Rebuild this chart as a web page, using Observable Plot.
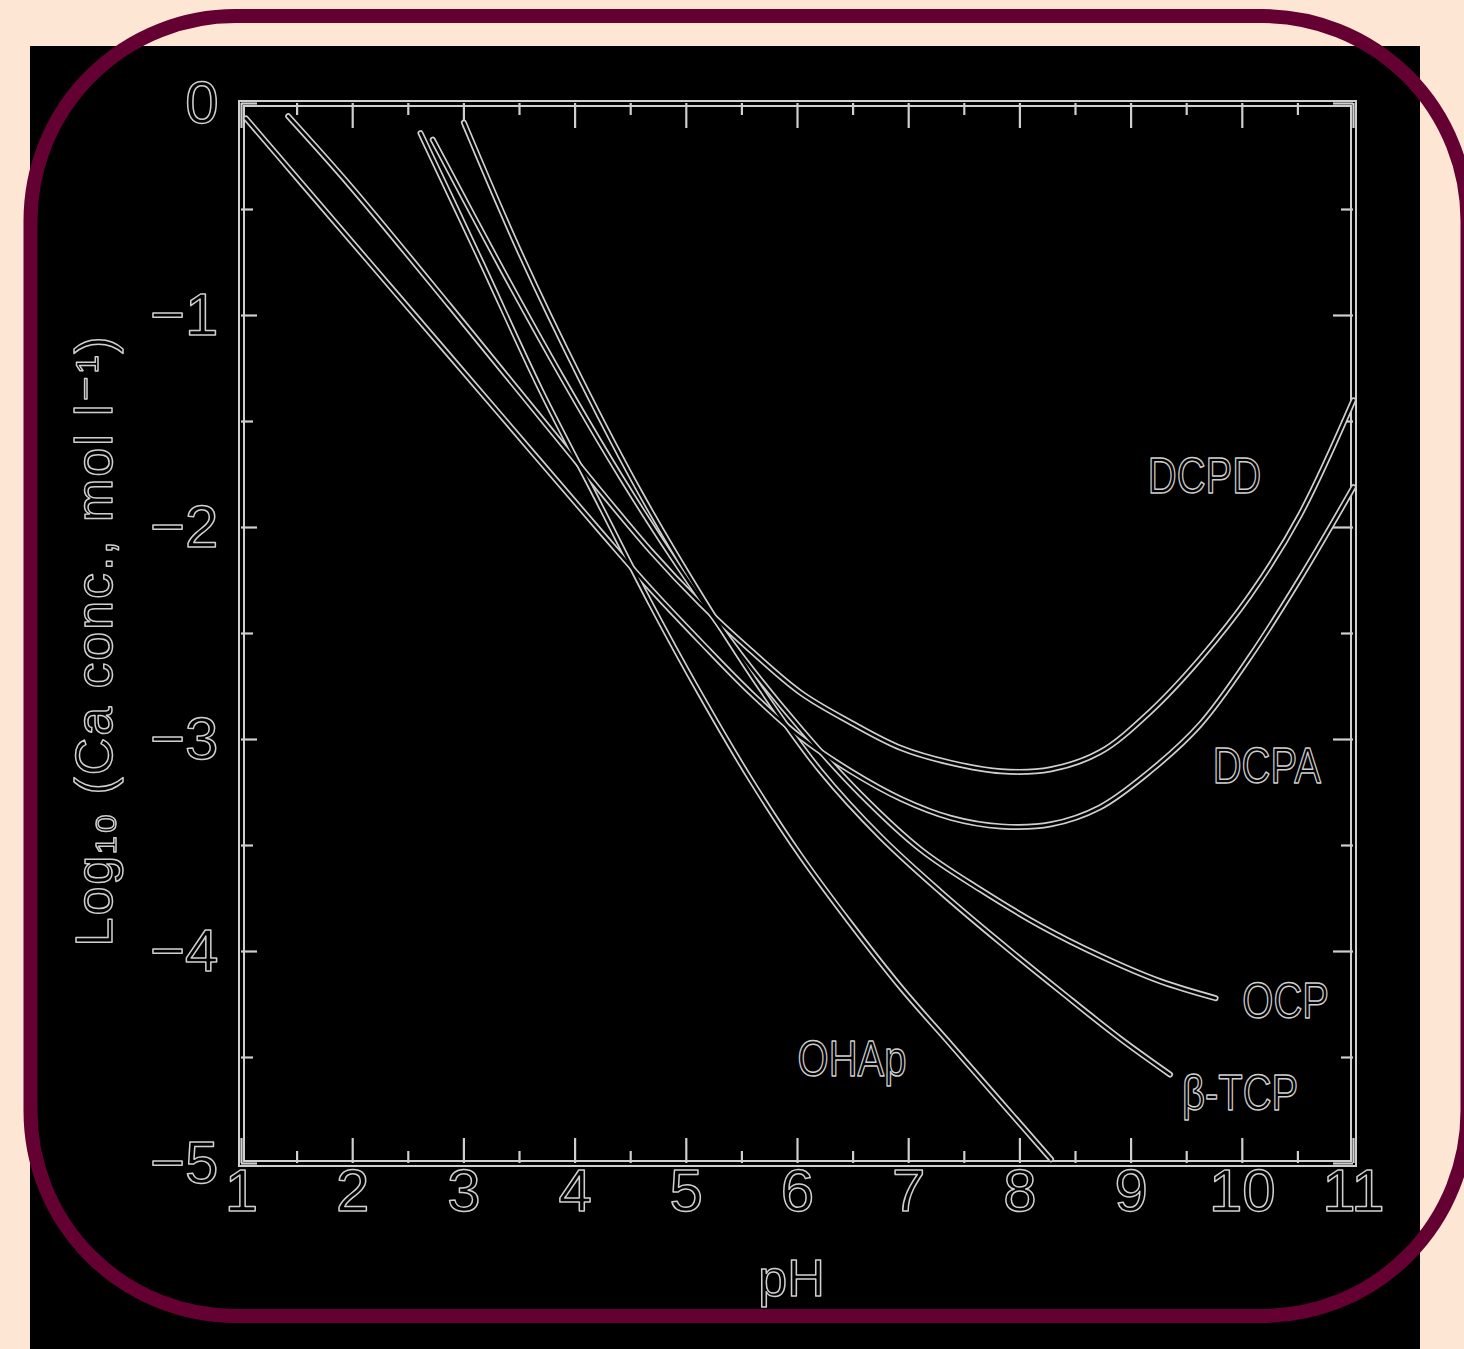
<!DOCTYPE html>
<html>
<head>
<meta charset="utf-8">
<script src="https://cdn.jsdelivr.net/npm/d3@7"></script>
<script src="https://cdn.jsdelivr.net/npm/@observablehq/plot@0.6"></script>
<style>
  html, body { margin: 0; padding: 0; background: #fde7d4; }
  body { width: 1464px; height: 1349px; position: relative; overflow: hidden; }
  #chart { position: absolute; left: 30px; top: 46px; width: 1390px; height: 1303px; background: #000; }
  #border { position: absolute; left: 0; top: 0; pointer-events: none; }
</style>
</head>
<body>
<div id="chart"></div>
<svg id="border" width="1464" height="1349">
  <rect x="30.5" y="16" width="1437" height="1300" rx="205" ry="205" fill="none" stroke="#640032" stroke-width="14"/>
</svg>
<script>
// ---- data (pH, log10 Ca concentration) ----
const dcpdPH  = [1.42, 1.98, 2.88, 3.78, 4.68, 5.13, 5.58, 6.03, 6.48, 6.93, 7.38, 7.83, 8.28, 8.72, 9.17, 9.62, 10.07, 10.52, 11.0];
const dcpdLog = [-0.06, -0.39, -0.96, -1.54, -2.11, -2.36, -2.58, -2.78, -2.92, -3.04, -3.11, -3.15, -3.14, -3.06, -2.87, -2.62, -2.32, -1.94, -1.40];

const dcpaPH  = [1.04, 1.53, 2.43, 3.33, 4.23, 4.68, 5.13, 5.58, 6.03, 6.48, 6.93, 7.38, 7.83, 8.28, 8.72, 9.17, 9.62, 10.07, 10.52, 11.0];
const dcpaLog = [-0.07, -0.37, -0.92, -1.47, -2.02, -2.29, -2.54, -2.78, -2.99, -3.15, -3.28, -3.37, -3.41, -3.40, -3.32, -3.15, -2.93, -2.61, -2.24, -1.81];

const ohapPH  = [2.61, 3.15, 3.69, 4.23, 4.68, 5.13, 5.58, 6.03, 6.48, 6.93, 7.38, 7.83, 8.28];
const ohapLog = [-0.14, -0.74, -1.35, -1.90, -2.36, -2.79, -3.19, -3.55, -3.87, -4.17, -4.44, -4.71, -4.98];

const ocpPH   = [2.72, 3.33, 3.87, 4.41, 4.95, 5.49, 6.03, 6.57, 7.11, 7.65, 8.19, 8.72, 9.26, 9.76];
const ocpLog  = [-0.17, -0.77, -1.28, -1.76, -2.20, -2.60, -2.95, -3.26, -3.52, -3.71, -3.88, -4.02, -4.14, -4.22];

const tcpPH   = [3.00, 3.51, 4.05, 4.59, 5.13, 5.67, 6.21, 6.75, 7.29, 7.83, 8.37, 8.90, 9.35];
const tcpLog  = [-0.09, -0.71, -1.30, -1.84, -2.32, -2.76, -3.15, -3.46, -3.72, -3.96, -4.19, -4.41, -4.58];

const curveNames = ["DCPD", "DCPA", "OHAp", "OCP", "β-TCP"];

// curve label annotations
const labelNames = ["DCPD", "DCPA", "OCP", "β-TCP", "OHAp"];
const labelPH    = [9.66, 10.22, 10.39, 9.98, 6.49];
const labelLog   = [-1.76, -3.13, -4.24, -4.67, -4.51];

// axis ticks
const xTicks = [1, 2, 3, 4, 5, 6, 7, 8, 9, 10, 11];
const xMinorTicks = [1.5, 2.5, 3.5, 4.5, 5.5, 6.5, 7.5, 8.5, 9.5, 10.5];
const yTicks = [0, -1, -2, -3, -4, -5];
const yMinorTicks = [-0.5, -1.5, -2.5, -3.5, -4.5];

const xTitle = "pH";
const yTitle = "Log₁₀ (Ca conc., mol l⁻¹)";

// ---- build table ----
const seriesPH = [dcpdPH, dcpaPH, ohapPH, ocpPH, tcpPH];
const seriesLog = [dcpdLog, dcpaLog, ohapLog, ocpLog, tcpLog];
const rows = [];
curveNames.forEach((name, i) => {
  seriesPH[i].forEach((p, j) => rows.push({curve: name, pH: p, log: seriesLog[i][j]}));
});
const labels = labelNames.map((n, i) => ({name: n, pH: labelPH[i], log: labelLog[i]}));

// ---- layout ----
const W = 1390, H = 1303;
const mL = 211, mR = 67, mT = 57, mB = 186;
const pw = W - mL - mR, ph = H - mT - mB;
const INK = "#cfcfcf";
const FONT = "'Liberation Sans Narrow', 'Liberation Sans', 'DejaVu Sans', sans-serif";
const textStyle = {fill: "none", stroke: INK, strokeWidth: 1.5};

const chart = Plot.plot({
  width: W, height: H,
  marginLeft: mL, marginRight: mR, marginTop: mT, marginBottom: mB,
  style: {background: "#000", fontFamily: FONT, overflow: "visible"},
  x: {domain: [1, 11], axis: null},
  y: {domain: [-5, 0], axis: null},
  marks: [
    // frame (double-line look)
    Plot.frame({stroke: INK, strokeWidth: 7}),
    Plot.frame({stroke: "#000", strokeWidth: 3}),
    // ticks, pointing inward
    Plot.ruleX(xTicks, {x: d => d, stroke: INK, strokeWidth: 2.2, insetTop: ph - 25}),
    Plot.ruleX(xMinorTicks, {x: d => d, stroke: INK, strokeWidth: 2.2, insetTop: ph - 12}),
    Plot.ruleX(xTicks, {x: d => d, stroke: INK, strokeWidth: 2.2, insetBottom: ph - 25}),
    Plot.ruleX(xMinorTicks, {x: d => d, stroke: INK, strokeWidth: 2.2, insetBottom: ph - 12}),
    Plot.ruleY(yTicks, {y: d => d, stroke: INK, strokeWidth: 2.2, insetRight: pw - 16}),
    Plot.ruleY(yMinorTicks, {y: d => d, stroke: INK, strokeWidth: 2.2, insetRight: pw - 12}),
    Plot.ruleY(yTicks, {y: d => d, stroke: INK, strokeWidth: 2.2, insetLeft: pw - 20}),
    Plot.ruleY(yMinorTicks, {y: d => d, stroke: INK, strokeWidth: 2.2, insetLeft: pw - 12}),
    // curves (double-line look)
    Plot.line(rows, {x: "pH", y: "log", z: "curve", stroke: INK, strokeWidth: 6, curve: "catmull-rom"}),
    Plot.line(rows, {x: "pH", y: "log", z: "curve", stroke: "#000", strokeWidth: 2.6, curve: "catmull-rom"}),
    // tick labels
    Plot.text(xTicks, {x: d => d, frameAnchor: "bottom", dy: 47, text: d => String(d),
      fontSize: 60, ...textStyle}),
    Plot.text(yTicks, {y: d => d, frameAnchor: "left", dx: -23, textAnchor: "end",
      text: d => d === 0 ? "0" : "−" + Math.abs(d), fontSize: 60, ...textStyle}),
    // axis titles
    Plot.text([xTitle], {frameAnchor: "bottom", dx: -6, dy: 132, text: d => d, fontSize: 52, ...textStyle}),
    Plot.text([yTitle], {frameAnchor: "left", dx: -146, dy: 8, rotate: -90, textAnchor: "middle",
      text: d => d, fontSize: 52, ariaDescription: "ytitle", ...textStyle}),
    // curve labels
    Plot.text(labels, {x: "pH", y: "log", text: "name", fontSize: 50,
      ariaDescription: "curvelabel", ...textStyle})
  ]
});
document.getElementById("chart").appendChild(chart);

// condense the narrow, tall lettering of the original
chart.querySelectorAll('g[aria-description="curvelabel"] text').forEach(t => {
  const L = t.getComputedTextLength();
  t.setAttribute("textLength", (L * 0.8).toFixed(1));
  t.setAttribute("lengthAdjust", "spacingAndGlyphs");
});
// widen the spaced-out y title to the original's extent
chart.querySelectorAll('g[aria-description="ytitle"] text').forEach(t => {
  const L = t.getComputedTextLength();
  const n = t.textContent.length;
  const ls = Math.max(0, (610 - L) / (n - 1));
  t.setAttribute("letter-spacing", ls.toFixed(2) + "px");
  t.setAttribute("dx", (ls / 2).toFixed(2));
});
</script>
</body>
</html>
